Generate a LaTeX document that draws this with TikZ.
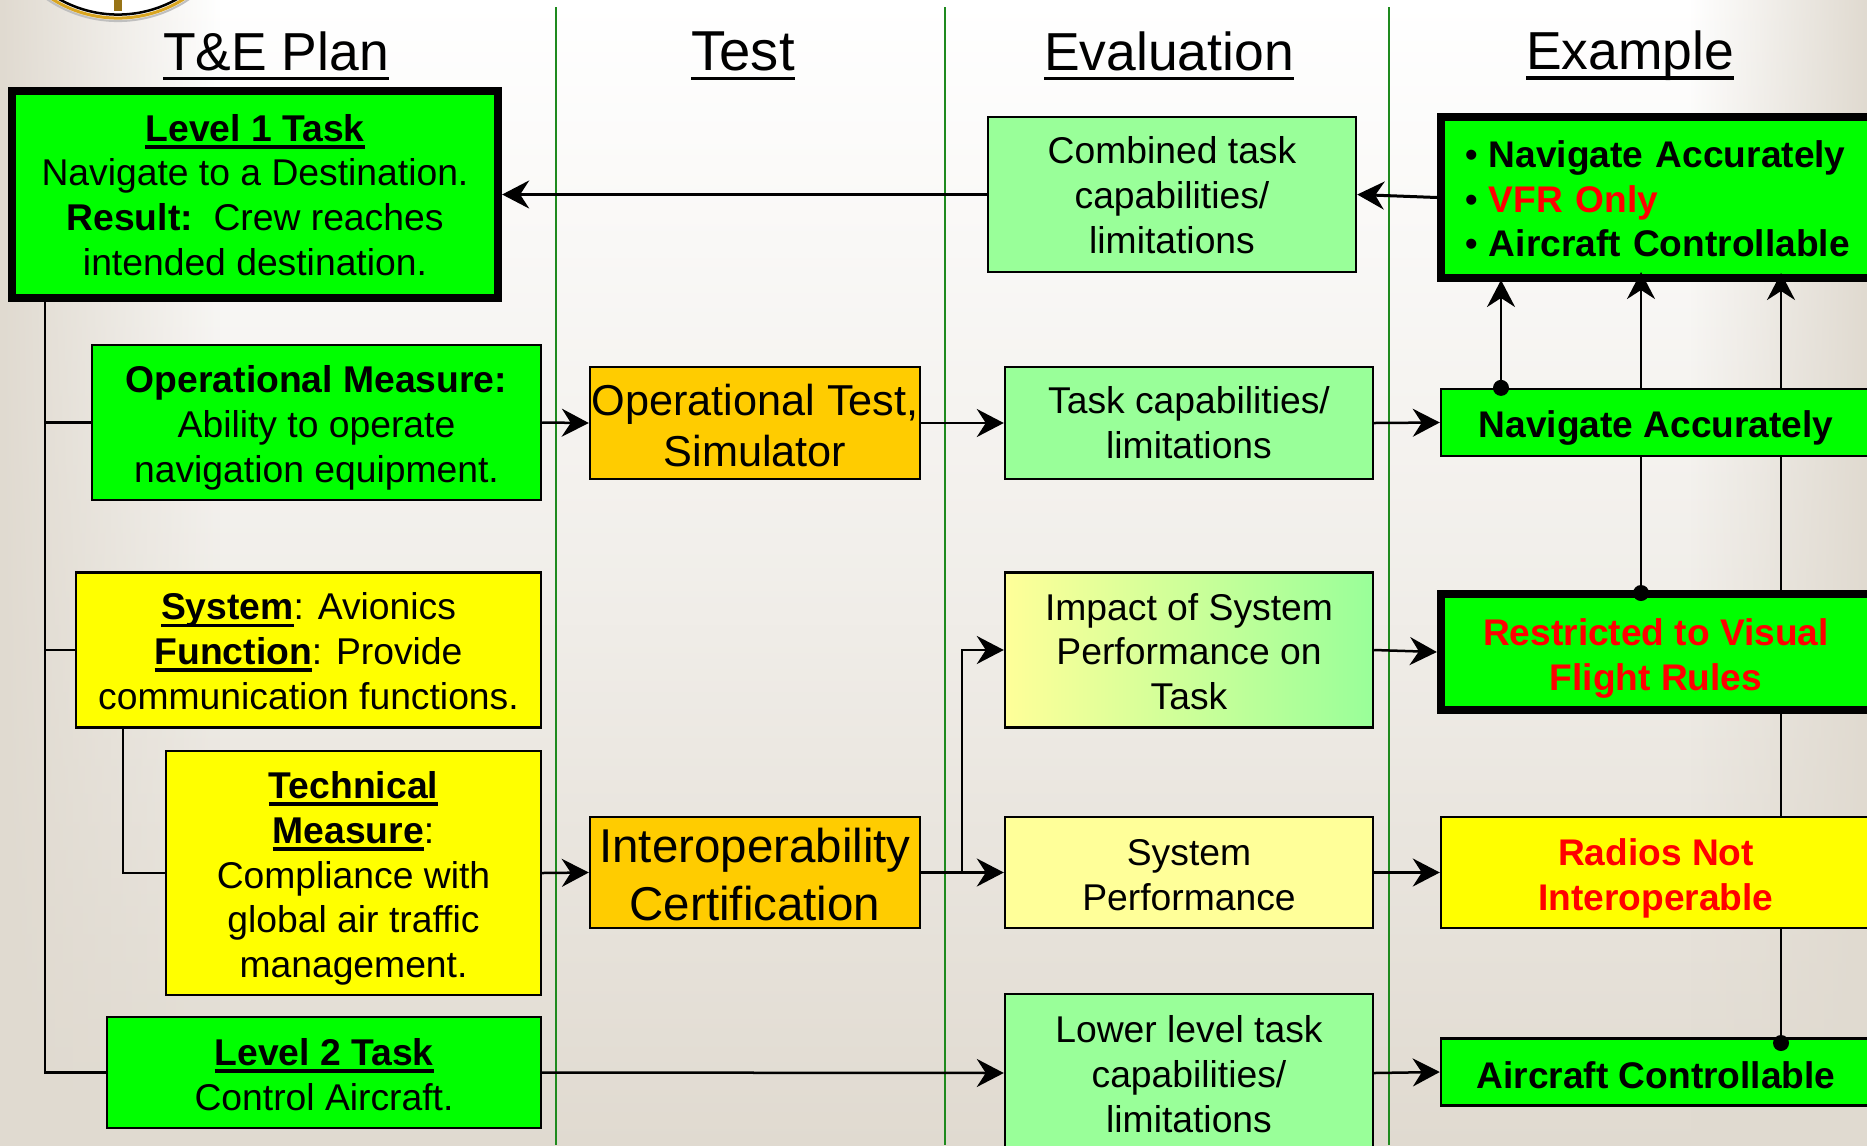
\documentclass[tikz,border=0pt]{standalone}
\usepackage{fontspec}
\setmainfont{Liberation Sans}
\usepackage{tikz}
\usetikzlibrary{arrows.meta,fadings}
\definecolor{bgbeige}{HTML}{E0DAD0}
\definecolor{taskgreen}{HTML}{00FF00}
\definecolor{taskyellow}{HTML}{FFFF00}
\definecolor{alertred}{HTML}{FF0000}
\definecolor{paleyellow}{HTML}{FFFF99}
\definecolor{palegreen}{HTML}{99FF99}
\definecolor{testorange}{HTML}{FFCC00}
\definecolor{sepgreen}{HTML}{1E8A1E}
\definecolor{sealgold}{HTML}{D9A520}
\newsavebox{\undrbox}
\newcommand{\undr}[2][-2.1pt]{\sbox{\undrbox}{#2}\rlap{\rule[#1]{\wd\undrbox}{1pt}}\usebox{\undrbox}}
\newcommand{\bul}[1]{\undr{\textbf{#1}}}
\newcommand{\bulletrow}{\makebox[0.24cm][l]{\textbullet}}
\newcommand{\drop}[1]{\rule{0pt}{\dimexpr 8pt+#1*2\relax}}

\begin{document}
\begin{tikzpicture}[
    x=0.01cm, y=-0.01cm,
    box/.style={rectangle, draw, line width=0.022cm, align=center, inner sep=0pt,
        font=\fontsize{10.6}{12.75}\selectfont},
    heavybox/.style={box, line width=0.08cm},
    boldbox/.style={box, font=\fontsize{10.55}{12.75}\selectfont\bfseries},
    title/.style={font=\fontsize{15.2}{18}\selectfont},
    arrow/.style={-{Stealth[length=0.27cm, width=0.28cm, inset=0.09cm]}, line width=0.025cm},
    link/.style={line width=0.025cm},
    sep/.style={sepgreen, line width=0.02cm},
    dot/.style={circle, fill=black, inner sep=0pt, minimum size=0.16cm}
]
    \path[clip] (0,0) rectangle (1867,1145);
    % backdrop
    \shade[top color=white, bottom color=bgbeige, middle color=bgbeige!45] (0,0) rectangle (1867,1145);
    \fill[bgbeige, path fading=east] (0,0) rectangle (220,1145);
    \fill[bgbeige, path fading=west] (1690,0) rectangle (1867,1145);

    % seal
    \node[circle, draw=black!25, line width=0.02cm, minimum size=2.52cm, inner sep=0pt] (sealrim) at (118,-105) {};
    \node[circle, draw=sealgold, fill=white, line width=0.03cm, minimum size=2.46cm, inner sep=0pt] (sealgoldring) at (118,-105) {};
    \node[circle, draw=black, line width=0.025cm, minimum size=2.39cm, inner sep=0pt] (sealring) at (118,-105) {};
    \fill[sealgold!70!black] (114,0) rectangle (122,11);

    \coordinate (septop) at (0,7);
    \coordinate (sepbot) at (0,1145);
    \draw[sep] (septop -| 556,0) -- (sepbot -| 556,0);
    \draw[sep] (septop -| 945,0) -- (sepbot -| 945,0);
    \draw[sep] (septop -| 1389,0) -- (sepbot -| 1389,0);

    \node[title] (plan) at (276,56) {\undr[-2.8pt]{T\&E Plan}};
    \node[title, font=\fontsize{16}{18}\selectfont] (test) at (743,56) {\undr[-2.8pt]{Test}};
    \node[title] (eval) at (1169,56) {\undr[-2.8pt]{Evaluation}};
    \node[title] (example) at (1630,56) {\undr[-2.8pt]{Example}};

    \node[heavybox, fill=taskgreen, minimum width=4.86cm, minimum height=2.06cm] (lvlone) at (255,194.5) {\drop{0pt}\bul{Level 1 Task}\\Navigate to a Destination.\\\textbf{Result:}\ \ Crew reaches\\intended destination.};
    \node[box, fill=taskgreen, minimum width=4.49cm, minimum height=1.55cm] (opmeas) at (316.5,422.5) {\drop{1.4pt}\textbf{Operational Measure:}\\Ability to operate\\navigation equipment.};
    \node[box, fill=taskyellow, minimum width=4.65cm, minimum height=1.55cm] (sysfun) at (308.5,650) {\drop{0.2pt}\bul{System}: Avionics\\\bul{Function}: Provide\\communication functions.};
    \node[box, fill=taskyellow, minimum width=3.75cm, minimum height=2.44cm] (techmeas) at (353.5,873) {\drop{1.4pt}\bul{Technical}\\\bul{Measure}:\\Compliance with\\global air traffic\\management.};
    \node[box, fill=taskgreen, minimum width=4.34cm, minimum height=1.11cm] (lvltwo) at (324,1072.5) {\drop{0.4pt}\bul{Level 2 Task}\\Control Aircraft.};

    \node[box, fill=testorange, minimum width=3.3cm, minimum height=1.12cm, font=\fontsize{12.3}{14.6}\selectfont] (optest) at (755,423) {\rule{0pt}{10.2pt}Operational Test,\\Simulator};
    \node[box, fill=testorange, minimum width=3.3cm, minimum height=1.11cm, font=\fontsize{13.5}{16.3}\selectfont] (interop) at (755,872.5) {\rule{0pt}{11pt}Interoperability\\Certification};

    \node[box, fill=palegreen, minimum width=3.68cm, minimum height=1.55cm] (combined) at (1172,194.5) {\drop{0.1pt}Combined task\\capabilities/\\limitations};
    \node[box, fill=palegreen, minimum width=3.68cm, minimum height=1.12cm] (taskcap) at (1189,423) {Task capabilities/\\limitations};
    \node[box, left color=paleyellow, right color=palegreen, minimum width=3.68cm, minimum height=1.55cm] (impact) at (1189,650) {\drop{0.3pt}Impact of System\\Performance on\\Task};
    \node[box, fill=paleyellow, minimum width=3.68cm, minimum height=1.11cm] (sysperf) at (1189,872.5) {\drop{0.4pt}System\\Performance};
    \node[box, fill=palegreen, minimum width=3.68cm, minimum height=1.58cm] (lowcap) at (1189,1073) {\drop{0.1pt}Lower level task\\capabilities/\\limitations};

    \node[heavybox, fill=taskgreen, minimum height=1.61cm, text width=3.92cm, inner xsep=0.24cm, align=left, font=\fontsize{10.55}{12.75}\selectfont] (exsum) at (1661,197.5) {\drop{0.2pt}\bulletrow\textbf{Navigate Accurately}\\\bulletrow\textbf{\textcolor{alertred}{VFR Only}}\\\bulletrow\textbf{Aircraft Controllable}};
    \node[boldbox, fill=taskgreen, minimum width=4.3cm, minimum height=0.67cm] (aircraft) at (1656,1072) {\drop{0.7pt}Aircraft Controllable};

    % feeds into the summary box, running behind the boxes below
    \coordinate (tipmid) at (1641,272);
    \coordinate (tipright) at (1781,273);
    \draw[arrow] (aircraft.north -| tipright) -- (tipright);

    \node[heavybox, boldbox, line width=0.08cm, fill=taskgreen, minimum width=4.3cm, minimum height=1.16cm, text=alertred] (restrict) at (1656,652) {\drop{1.7pt}Restricted to Visual\\Flight Rules};
    \draw[arrow] (restrict.north -| tipmid) -- (tipmid);

    \node[boldbox, fill=taskgreen, minimum width=4.3cm, minimum height=0.67cm] (navacc) at (1656,422.5) {\drop{1.4pt}Navigate Accurately};
    \node[boldbox, fill=taskyellow, minimum width=4.3cm, minimum height=1.11cm, text=alertred] (radios) at (1656,872.5) {\drop{1.5pt}Radios Not\\Interoperable};

    \coordinate (tipleft) at (1501,280);
    \draw[arrow] (navacc.north -| tipleft) -- (tipleft);
    \node[dot] (dotnav) at (navacc.north -| tipleft) {};
    \node[dot] (dotrest) at (1641,593) {};
    \node[dot] (dotair) at (1781,1043) {};

    % T&E plan tree
    \coordinate (trunktop) at (45,0);
    \coordinate (subtree) at (123,0);
    \draw[link] (lvlone.south -| trunktop) |- (lvltwo.west);
    \draw[link] (opmeas.west) -- (opmeas.west -| trunktop);
    \draw[link] (sysfun.west) -- (sysfun.west -| trunktop);
    \draw[link] (sysfun.south -| subtree) |- (techmeas.west);

    \draw[arrow, line width=0.03cm] (exsum.west) -- (combined.east);
    \draw[arrow, line width=0.03cm] (combined.west) -- (lvlone.east);
    \draw[arrow] (opmeas.east) -- (optest.west);
    \draw[arrow] (optest.east) -- (taskcap.west);
    \draw[arrow] (taskcap.east) -- (navacc.west);
    \draw[arrow] (impact.east) -- (restrict.west);
    \draw[arrow] (techmeas.east) -- (interop.west);
    \draw[arrow] (interop.east) -- (sysperf.west);
    \coordinate (branch) at (962,0);
    \draw[arrow] (interop.east -| branch) |- (impact.west);
    \draw[arrow] (sysperf.east) -- (radios.west);
    \draw[arrow] (lvltwo.east) -- (lowcap.west);
    \draw[arrow] (lowcap.east) -- (aircraft.west);
\end{tikzpicture}
\end{document}
